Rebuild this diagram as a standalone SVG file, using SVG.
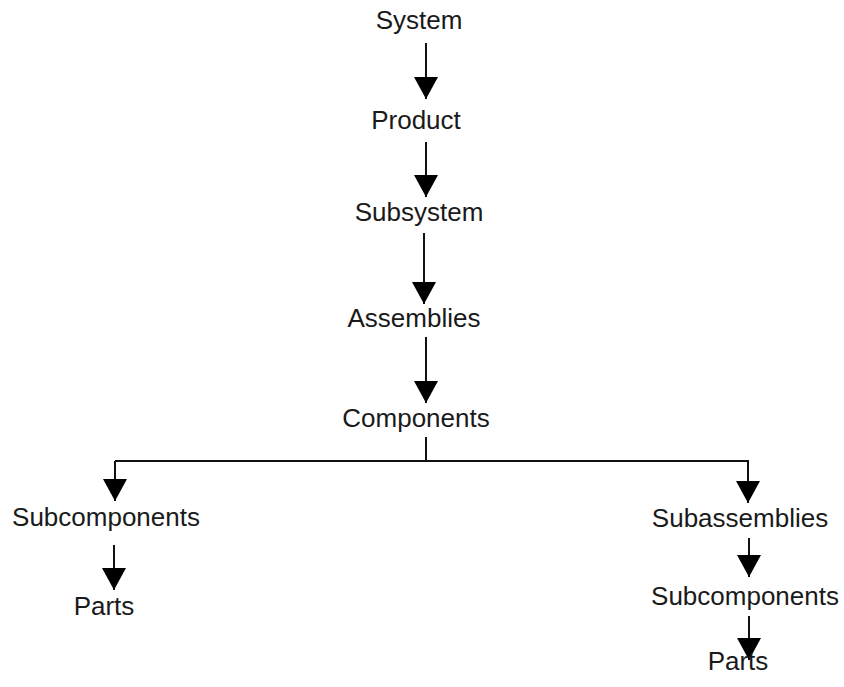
<svg xmlns="http://www.w3.org/2000/svg" width="844" height="687" viewBox="0 0 844 687">
  <style>
    .lbl { font-family: "Liberation Sans", Arial, sans-serif; font-size: 26px; fill: #1a1a1a; text-anchor: middle; }
    .edge { fill: none; stroke: #111; stroke-width: 2; }
  </style>
  <defs>
    <marker id="head" viewBox="0 0 22 24" refX="22" refY="12" markerWidth="22" markerHeight="24" markerUnits="userSpaceOnUse" orient="auto">
      <path d="M0,0 L22,12 L0,24 z" fill="#000"/>
    </marker>
  </defs>
  <rect width="844" height="687" fill="#fff"/>

  <g id="connectors">
    <path class="edge" d="M426,43 V99" marker-end="url(#head)"/>
    <path class="edge" d="M426,142 V197" marker-end="url(#head)"/>
    <path class="edge" d="M424,233 V304" marker-end="url(#head)"/>
    <path class="edge" d="M426,337 V403" marker-end="url(#head)"/>
    <path class="edge" d="M426,437 V461 M115,461 H749"/>
    <path class="edge" d="M115,461 V501" marker-end="url(#head)"/>
    <path class="edge" d="M748,461 V503" marker-end="url(#head)"/>
    <path class="edge" d="M114,545 V590" marker-end="url(#head)"/>
    <path class="edge" d="M749,538 V577" marker-end="url(#head)"/>
    <path class="edge" d="M749,616 V660" marker-end="url(#head)"/>
  </g>

  <g id="system"><text class="lbl" x="419" y="29">System</text></g>
  <g id="product"><text class="lbl" x="416" y="129">Product</text></g>
  <g id="subsystem"><text class="lbl" x="419" y="221">Subsystem</text></g>
  <g id="assemblies"><text class="lbl" x="414" y="327">Assemblies</text></g>
  <g id="components"><text class="lbl" x="416" y="427">Components</text></g>
  <g id="subcomponents-left"><text class="lbl" x="106" y="526">Subcomponents</text></g>
  <g id="parts-left"><text class="lbl" x="104" y="615">Parts</text></g>
  <g id="subassemblies"><text class="lbl" x="740" y="527">Subassemblies</text></g>
  <g id="subcomponents-right"><text class="lbl" x="745" y="605">Subcomponents</text></g>
  <g id="parts-right"><text class="lbl" x="738" y="670">Parts</text></g>
</svg>
